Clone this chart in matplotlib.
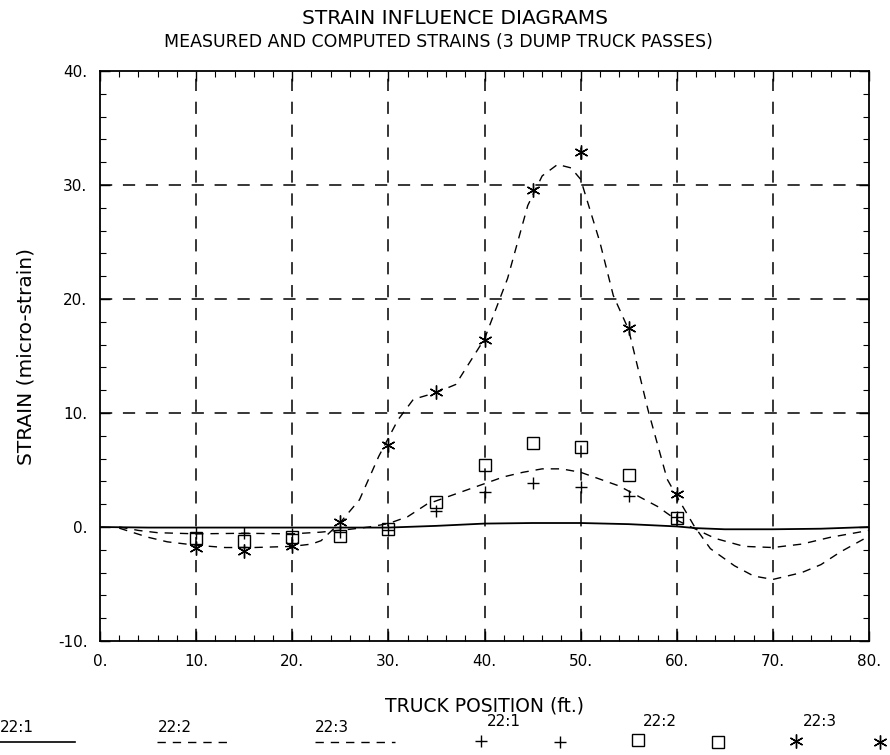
import matplotlib
matplotlib.use("Agg")
import matplotlib.pyplot as plt
from matplotlib.lines import Line2D
from matplotlib.ticker import MultipleLocator, FuncFormatter

plt.rcParams['font.family'] = ['DejaVu Sans']

# ---- measured data (truck position, ft) ----
meas_x = [10, 15, 20, 25, 30, 35, 40, 45, 50, 55, 60]
meas_22_1 = [-0.5, -0.5, -0.6, -0.4, -0.3, 1.4, 3.1, 3.9, 3.5, 2.7, 0.9]
meas_22_2 = [-1.0, -1.2, -0.9, -0.8, -0.2, 2.2, 5.4, 7.4, 7.0, 4.6, 0.8]
meas_22_3 = [-1.8, -2.1, -1.7, 0.4, 7.2, 11.8, 16.4, 29.6, 32.9, 17.5, 2.9]

# ---- computed influence lines ----
comp1_x = [0, 5, 10, 20, 30, 35, 40, 45, 50, 55, 60, 62, 65, 70, 75, 80]
comp1_y = [0, -0.05, -0.05, -0.05, -0.05, 0.1, 0.3, 0.35, 0.35, 0.25, 0.05, -0.1, -0.2, -0.2, -0.15, 0]

comp2_x = [2, 4, 6, 10, 15, 20, 23, 26, 28, 30, 32, 34, 36, 38, 40, 42, 44, 46, 48,
           50, 52, 54, 56, 58, 60, 62, 64, 67, 70, 73, 76, 80]
comp2_y = [0, -0.3, -0.5, -0.6, -0.55, -0.6, -0.45, -0.2, 0.0, 0.3, 0.9, 2.0, 2.6, 3.2,
           3.8, 4.4, 4.8, 5.1, 5.1, 4.8, 4.2, 3.6, 2.7, 1.8, 0.6, -0.2, -1.0, -1.7, -1.8,
           -1.5, -0.9, -0.3]

comp3_x = [2, 5, 7, 10, 13, 16, 20, 22, 23, 25, 27, 29, 31, 32.6, 35, 37, 40, 42.4,
           44.5, 46, 47.6, 49, 50, 52, 53.4, 55, 57, 59, 60, 61.8, 63.5, 66, 68, 70,
           73, 75, 77, 80]
comp3_y = [-0.1, -0.9, -1.3, -1.6, -1.8, -1.8, -1.7, -1.5, -1.2, 0.4, 2.4, 6.2, 9.4,
           11.2, 11.8, 12.5, 16.5, 21.8, 28.2, 30.8, 31.8, 31.5, 30.5, 25.0, 20.3,
           17.3, 10.3, 4.2, 2.7, 0.1, -1.9, -3.4, -4.3, -4.6, -4.0, -3.3, -2.2, -0.8]

x_grid = [10, 20, 30, 40, 50, 60, 70]
y_grid = [10, 20, 30]

fig = plt.figure(figsize=(8.9, 7.55), dpi=100)
ax = fig.add_axes([100 / 890, 1 - 641 / 755, 769 / 890, 570 / 755])

ax.set_xlim(0, 80)
ax.set_ylim(-10, 40)

for gx in x_grid:
    ax.axvline(gx, color='black', lw=1.1, dashes=(8, 7), zorder=1)
for gy in y_grid:
    ax.axhline(gy, color='black', lw=1.1, dashes=(8, 7), zorder=1)

ax.plot(comp1_x, comp1_y, color='black', lw=1.3, zorder=2)
ax.plot(comp2_x, comp2_y, color='black', lw=1.0, dashes=(6, 5), zorder=2)
ax.plot(comp3_x, comp3_y, color='black', lw=1.0, dashes=(6, 5), zorder=2)

ax.plot(meas_x, meas_22_1, linestyle='none', marker='+', ms=9, mew=1.0, color='black', zorder=3)
ax.plot(meas_x, meas_22_2, linestyle='none', marker='s', ms=8.5, mew=1.0, mfc='none', mec='black', zorder=3)
ax.plot(meas_x, meas_22_3, linestyle='none', marker=(6, 2, 0), ms=10, mew=1.0, color='black', zorder=3)

ax.xaxis.set_major_locator(MultipleLocator(10))
ax.yaxis.set_major_locator(MultipleLocator(10))
ax.xaxis.set_minor_locator(MultipleLocator(2))
ax.yaxis.set_minor_locator(MultipleLocator(2))
fmt = FuncFormatter(lambda v, p: ("-" if v < 0 else "") + f"{abs(int(round(v)))}.")
ax.xaxis.set_major_formatter(fmt)
ax.yaxis.set_major_formatter(fmt)
ax.tick_params(which='both', direction='in', top=True, right=True, colors='black',
               labelsize=11)
ax.tick_params(which='major', length=7, width=1.0, pad=9)
ax.tick_params(which='minor', length=4, width=0.8)
for s in ax.spines.values():
    s.set_linewidth(1.3)

ax.set_xlabel('TRUCK POSITION (ft.)', fontsize=13.5, labelpad=20)
ax.set_ylabel('STRAIN (micro-strain)', fontsize=14.5, labelpad=16)

fig.text(0.511, 0.976, 'STRAIN INFLUENCE DIAGRAMS', ha='center', va='center', fontsize=14.5)
fig.text(0.493, 0.944, 'MEASURED AND COMPUTED STRAINS (3 DUMP TRUCK PASSES)',
         ha='center', va='center', fontsize=12.5)

# ---- legend row below the axes ----
def fx(px):
    return px / 890

def fy(py):
    return 1 - py / 755

leg_fs = 11
fig.text(fx(0), fy(727), '22:1', ha='left', va='center', fontsize=leg_fs)
fig.add_artist(Line2D([fx(0), fx(75)], [fy(742), fy(742)], color='black', lw=1.2))
fig.text(fx(158), fy(727), '22:2', ha='left', va='center', fontsize=leg_fs)
fig.add_artist(Line2D([fx(157), fx(232)], [fy(742), fy(742)], color='black', lw=1.0, dashes=(6, 5)))
fig.text(fx(315), fy(727), '22:3', ha='left', va='center', fontsize=leg_fs)
fig.add_artist(Line2D([fx(315), fx(395)], [fy(742), fy(742)], color='black', lw=1.0, dashes=(6, 5)))

fig.text(fx(487), fy(722), '22:1', ha='left', va='center', fontsize=leg_fs)
fig.add_artist(Line2D([fx(481)], [fy(741)], marker='+', ms=9, mew=1.0, color='black', ls='none'))
fig.add_artist(Line2D([fx(560)], [fy(742)], marker='+', ms=9, mew=1.0, color='black', ls='none'))
fig.text(fx(643), fy(722), '22:2', ha='left', va='center', fontsize=leg_fs)
fig.add_artist(Line2D([fx(638)], [fy(740)], marker='s', ms=8, mew=1.0, mfc='none', mec='black', ls='none'))
fig.add_artist(Line2D([fx(718)], [fy(742)], marker='s', ms=8, mew=1.0, mfc='none', mec='black', ls='none'))
fig.text(fx(803), fy(722), '22:3', ha='left', va='center', fontsize=leg_fs)
fig.add_artist(Line2D([fx(796)], [fy(741)], marker=(6, 2, 0), ms=10, mew=1.0, color='black', ls='none'))
fig.add_artist(Line2D([fx(880)], [fy(742)], marker=(6, 2, 0), ms=10, mew=1.0, color='black', ls='none'))

fig.savefig('out.png', dpi=100, facecolor='white')
